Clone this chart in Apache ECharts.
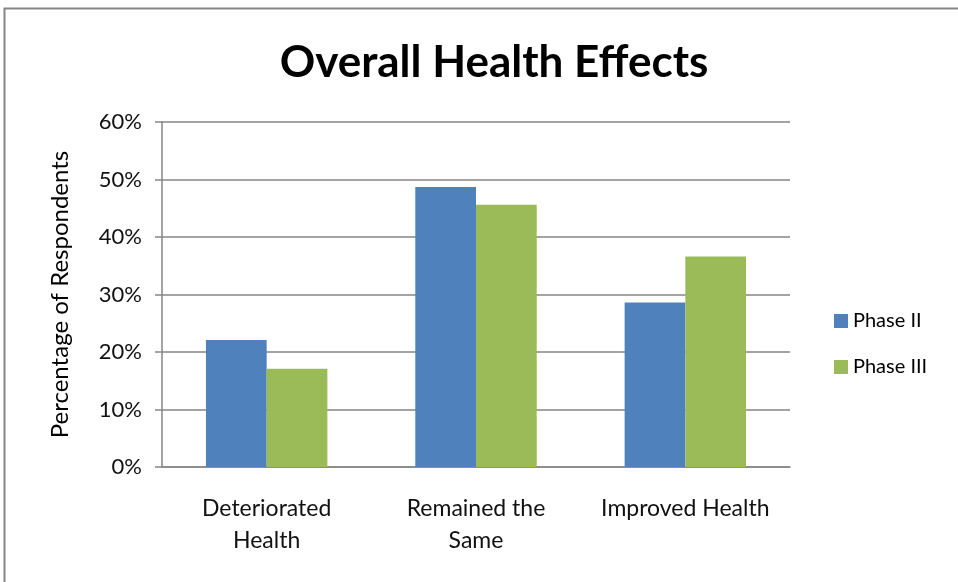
<!DOCTYPE html>
<html>
<head>
<meta charset="utf-8">
<script src="https://cdn.jsdelivr.net/npm/echarts@6/dist/echarts.min.js"></script>
<style>
  html, body { margin: 0; padding: 0; background: #fff; }
  #chart { width: 958px; height: 582px; }
</style>
</head>
<body>
<div id="chart"></div>
<script>
// categories and values
var categories = ['Deteriorated\nHealth', 'Remained the\nSame', 'Improved Health']
var phase2 = [22.1, 48.7, 28.6]
var phase3 = [17.1, 45.6, 36.6]
var yTicks = [0, 10, 20, 30, 40, 50, 60]

var font = 'Lato, "Open Sans", sans-serif'
var gray = '#868686'

var myChart = echarts.init(document.getElementById('chart'))

myChart.setOption({
  animation: false,
  textStyle: { fontFamily: font },
  title: {
    text: 'Overall Health Effects',
    left: 489,
    top: 36,
    textAlign: 'center',
    textStyle: { fontSize: 44, fontWeight: 'bold', color: '#000', fontFamily: font }
  },
  // outer chart frame
  graphic: [{
    type: 'rect',
    shape: { x: 4.5, y: 8.5, width: 960, height: 590 },
    style: { fill: 'none', stroke: gray, lineWidth: 2 },
    silent: true
  }],
  legend: {
    orient: 'vertical',
    left: 829,
    top: 306,
    itemWidth: 14,
    itemHeight: 14,
    itemGap: 26,
    icon: 'rect',
    textStyle: { fontSize: 20, color: '#000', fontFamily: font },
    data: ['Phase II', 'Phase III']
  },
  grid: {
    left: 162,
    right: 168,
    top: 122,
    bottom: 115
  },
  xAxis: {
    type: 'category',
    data: categories,
    axisLine: { lineStyle: { color: gray, width: 1.5 } },
    axisTick: { show: false },
    axisLabel: {
      color: '#111',
      fontSize: 23,
      lineHeight: 32,
      margin: 26,
      interval: 0,
      fontFamily: font
    }
  },
  yAxis: {
    type: 'value',
    min: yTicks[0],
    max: yTicks[yTicks.length - 1],
    interval: 10,
    name: 'Percentage of Respondents',
    nameLocation: 'middle',
    nameGap: 90,
    nameTextStyle: { fontSize: 24, color: '#000', fontFamily: font },
    axisLine: { show: true, lineStyle: { color: gray, width: 1.5 } },
    axisTick: { show: true, length: 7, lineStyle: { color: gray, width: 1.5 } },
    splitLine: { lineStyle: { color: gray, width: 1.5 } },
    axisLabel: {
      formatter: '{value}%',
      color: '#111',
      fontSize: 22,
      margin: 20,
      fontFamily: font
    }
  },
  series: [
    {
      name: 'Phase II',
      type: 'bar',
      data: phase2,
      barGap: '0%',
      barCategoryGap: '42%',
      itemStyle: { color: '#4F81BD' }
    },
    {
      name: 'Phase III',
      type: 'bar',
      data: phase3,
      barGap: '0%',
      barCategoryGap: '42%',
      itemStyle: { color: '#9BBB59' }
    }
  ]
})
</script>
</body>
</html>
